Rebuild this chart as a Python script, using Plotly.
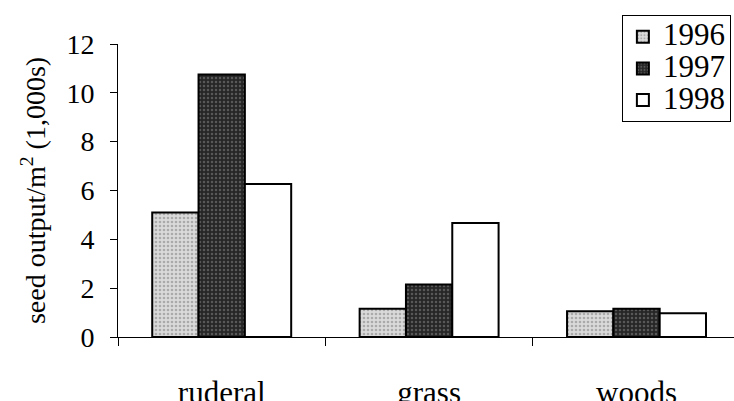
import plotly.graph_objects as go

categories = ["ruderal", "grass", "woods"]
years = ["1996", "1997", "1998"]
v1996 = [5.1, 1.16, 1.05]
v1997 = [10.75, 2.15, 1.16]
v1998 = [6.27, 4.67, 0.97]

series = [v1996, v1997, v1998]
styles = [
    dict(color="#d4d4d4", pattern=dict(shape=".", fgcolor="#7a7a7a", bgcolor="#dadada", size=4, solidity=0.35)),
    dict(color="#303030", pattern=dict(shape=".", fgcolor="#8a8a8a", bgcolor="#262626", size=4, solidity=0.3)),
    dict(color="white"),
]

FONT = "Liberation Serif, Times New Roman, serif"

fig = go.Figure()
for name, vals, st in zip(years, series, styles):
    fig.add_trace(go.Bar(
        x=categories, y=vals,
        name="<span style=\"font-family:'Liberation Serif', serif;font-size:31px\">" + name + "</span>",
        marker=dict(line=dict(color="black", width=2), **st),
    ))

fig.update_layout(
    width=734, height=401,
    margin=dict(l=118, r=0, t=44, b=64, autoexpand=False),
    paper_bgcolor="white", plot_bgcolor="white",
    font=dict(family=FONT, size=28, color="black"),
    barmode="group", bargap=0.33, bargroupgap=0,
    showlegend=True,
    legend=dict(
        x=0.818, xanchor="left", y=1.099, yanchor="top",
        bordercolor="black", borderwidth=1, bgcolor="white",
        font=dict(family=FONT, size=22), itemwidth=30,
        tracegroupgap=0,
    ),
    xaxis=dict(
        range=[-0.5, 2.47], showline=True, linecolor="black", linewidth=1,
        ticks="outside", tickson="boundaries", ticklen=8, tickcolor="black",
        showgrid=False, zeroline=False, ticklabelstandoff=28, automargin=False,
        tickfont=dict(family=FONT, size=31),
    ),
    yaxis=dict(
        range=[0, 12], dtick=2, showline=True, linecolor="black", linewidth=1,
        ticks="outside", ticklen=7, tickcolor="black", ticklabelstandoff=10,
        showgrid=False, zeroline=False, automargin=False,
        tickfont=dict(family=FONT, size=28),
        title=dict(text="seed output/m<sup>2</sup> (1,000s)", font=dict(family=FONT, size=28), standoff=12),
    ),
)

fig.write_html("out.html", config={"displayModeBar": False},
               post_script="document.body.style.margin='0';")
